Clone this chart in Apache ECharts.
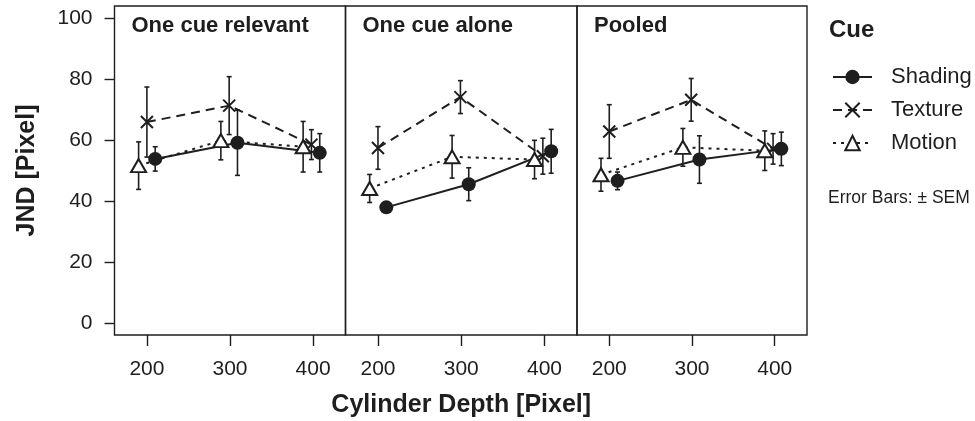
<!DOCTYPE html>
<html><head><meta charset="utf-8">
<script src="https://cdn.jsdelivr.net/npm/echarts@6/dist/echarts.min.js"></script>
<style>html,body{margin:0;padding:0;background:#fff}#c{width:975px;height:421px}</style>
</head><body><div id="c"></div>
<script>
// ---- data ----
const panels = ['One cue relevant', 'One cue alone', 'Pooled'];
const cues = ['Shading', 'Texture', 'Motion'];
const depthTicks = [200, 300, 400];
const jndTicks = [0, 20, 40, 60, 80, 100];

// plotted (jittered) depth positions of each cue
const shadingDepth = [210, 309, 408];
const textureDepth = [200, 299, 398];
const motionDepth  = [190, 289, 388];

// One cue relevant
const relevantShadingMean = [53.8, 59.1, 55.8];
const relevantShadingSem  = [4.0, 10.7, 6.3];
const relevantTextureMean = [65.9, 71.3, 58.5];
const relevantTextureSem  = [11.5, 9.5, 4.9];
const relevantMotionMean  = [51.6, 59.8, 57.8];
const relevantMotionSem   = [7.8, 6.3, 8.3];
// One cue alone
const aloneShadingMean = [37.9, 45.5, 56.3];
const aloneShadingSem  = [1.5, 5.4, 7.2];
const aloneTextureMean = [57.4, 74.1, 54.7];
const aloneTextureSem  = [7.0, 5.4, 5.9];
const aloneMotionMean  = [44.1, 54.5, 53.6];
const aloneMotionSem   = [4.6, 7.0, 6.3];
// Pooled
const pooledShadingMean = [46.6, 53.6, 57.1];
const pooledShadingSem  = [2.9, 7.8, 5.5];
const pooledTextureMean = [62.8, 73.2, 57.1];
const pooledTextureSem  = [8.8, 7.0, 5.0];
const pooledMotionMean  = [48.6, 57.6, 56.5];
const pooledMotionSem   = [5.4, 6.2, 6.5];

// ---- build chart ----
const FONT = 'Liberation Sans, Arial, Helvetica, sans-serif';
const INK = '#1e1e1e';
const panelData = [
  {Shading: [relevantShadingMean, relevantShadingSem], Texture: [relevantTextureMean, relevantTextureSem], Motion: [relevantMotionMean, relevantMotionSem]},
  {Shading: [aloneShadingMean, aloneShadingSem], Texture: [aloneTextureMean, aloneTextureSem], Motion: [aloneMotionMean, aloneMotionSem]},
  {Shading: [pooledShadingMean, pooledShadingSem], Texture: [pooledTextureMean, pooledTextureSem], Motion: [pooledMotionMean, pooledMotionSem]}
];
const depthOf = {Shading: shadingDepth, Texture: textureDepth, Motion: motionDepth};

const cueStyle = {
  Shading: {symbol: 'circle', symbolSize: 14, itemStyle: {color: INK, borderColor: INK, borderWidth: 0}, lineStyle: {color: INK, width: 2, type: 'solid'}},
  Texture: {symbol: 'path://M0,0L10,10M10,0L0,10', symbolSize: 12, itemStyle: {color: 'rgba(0,0,0,0)', borderColor: INK, borderWidth: 2}, lineStyle: {color: INK, width: 2, type: [9, 6]}},
  Motion: {symbol: 'triangle', symbolSize: [15, 13], itemStyle: {color: '#fff', borderColor: INK, borderWidth: 2}, lineStyle: {color: INK, width: 2, type: [3, 5]}}
};

const gridLefts = [114.5, 345.5, 577];
const gridWidths = [231, 231.5, 230];

function renderErrorBar(params, api) {
  const x = api.value(0), lo = api.value(1), hi = api.value(2);
  const a = api.coord([x, lo]), b = api.coord([x, hi]);
  const cap = 2.5;
  const style = {stroke: INK, lineWidth: 1.6, fill: null};
  return {type: 'group', children: [
    {type: 'line', shape: {x1: a[0], y1: a[1], x2: b[0], y2: b[1]}, style: style},
    {type: 'line', shape: {x1: a[0] - cap, y1: a[1], x2: a[0] + cap, y2: a[1]}, style: style},
    {type: 'line', shape: {x1: b[0] - cap, y1: b[1], x2: b[0] + cap, y2: b[1]}, style: style}
  ]};
}

const grids = [], xAxes = [], yAxes = [], series = [], titles = [];
panels.forEach((p, i) => {
  grids.push({left: gridLefts[i], width: gridWidths[i], top: 6, height: 329, show: true, containLabel: false, outerBoundsMode: 'none', borderColor: INK, borderWidth: 1.4, backgroundColor: 'transparent'});
  xAxes.push({
    type: 'value', gridIndex: i, min: 161, max: 439,
    axisLine: {show: false, onZero: false}, splitLine: {show: false},
    axisTick: {show: true, inside: false, length: 11, customValues: depthTicks, lineStyle: {color: INK, width: 1.4}},
    axisLabel: {show: true, customValues: depthTicks, margin: 24, fontSize: 21, color: INK, fontFamily: FONT},
    name: i === 1 ? 'Cylinder Depth [Pixel]' : '', nameLocation: 'middle', nameGap: 58,
    nameTextStyle: {fontSize: 25, fontWeight: 'bold', color: INK, fontFamily: FONT}
  });
  yAxes.push({
    type: 'value', gridIndex: i, min: -4, max: 104,
    axisLine: {show: false, onZero: false}, splitLine: {show: false},
    axisTick: {show: i === 0, inside: false, length: 10, customValues: jndTicks, lineStyle: {color: INK, width: 1.4}},
    axisLabel: {show: i === 0, customValues: jndTicks, margin: 22, fontSize: 21, color: INK, fontFamily: FONT},
    name: i === 0 ? 'JND [Pixel]' : '', nameLocation: 'middle', nameGap: 75, nameRotate: 90,
    nameTextStyle: {fontSize: 25, fontWeight: 'bold', color: INK, fontFamily: FONT}
  });
  titles.push({text: p, left: gridLefts[i] + 17, top: 15, padding: 0,
    textStyle: {fontSize: 22, fontWeight: 'bold', color: INK, fontFamily: FONT}});
  cues.forEach(c => {
    const mean = panelData[i][c][0], sem = panelData[i][c][1], xs = depthOf[c];
    series.push({
      type: 'custom', name: c + ' SEM', xAxisIndex: i, yAxisIndex: i, z: 1,
      renderItem: renderErrorBar,
      data: xs.map((x, k) => [x, mean[k] - sem[k], mean[k] + sem[k]])
    });
    const st = cueStyle[c];
    series.push({
      type: 'line', name: c, xAxisIndex: i, yAxisIndex: i, z: 3,
      symbol: st.symbol, symbolSize: st.symbolSize, showSymbol: true,
      itemStyle: st.itemStyle, lineStyle: st.lineStyle,
      emphasis: {disabled: true},
      data: xs.map((x, k) => [x, mean[k]])
    });
  });
});
titles.push({text: 'Cue', left: 829, top: 18, padding: 0, textStyle: {fontSize: 24, fontWeight: 'bold', color: INK, fontFamily: FONT}});
titles.push({text: 'Error Bars: \u00b1 SEM', left: 828, top: 189, padding: 0, textStyle: {fontSize: 17.5, fontWeight: 'normal', color: INK, fontFamily: FONT}});

const chart = echarts.init(document.getElementById('c'), null, {renderer: 'canvas'});
chart.setOption({
  animation: false,
  backgroundColor: '#fff',
  title: titles,
  grid: grids, xAxis: xAxes, yAxis: yAxes,
  legend: {
    data: cues, orient: 'vertical', left: 832, top: 66, padding: 0,
    itemWidth: 39, itemHeight: 18, itemGap: 11,
    textStyle: {fontSize: 22, color: INK, fontFamily: FONT, padding: [0, 0, 0, 14]},
    selectedMode: false
  },
  series: series
});
</script></body></html>
